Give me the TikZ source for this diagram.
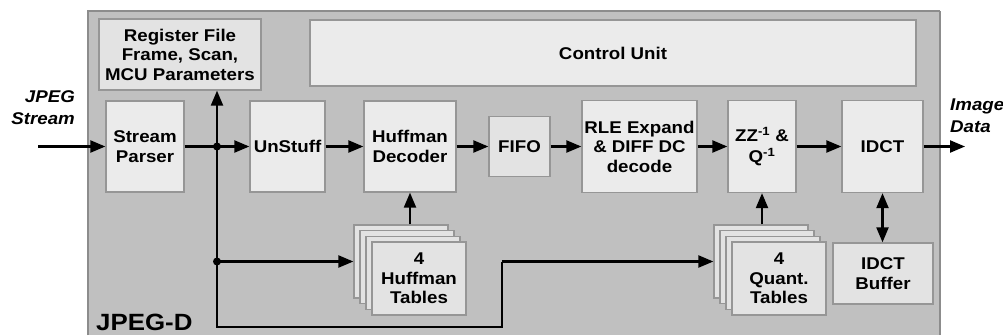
\documentclass[tikz,border=0pt]{standalone}
\usepackage{fontspec}
\setmainfont{Liberation Sans}[FakeStretch=1.1]
\usetikzlibrary{arrows.meta}
\definecolor{outerfill}{RGB}{192,192,192}
\definecolor{outerline}{RGB}{140,140,140}
\definecolor{boxfill}{RGB}{235,235,235}
\definecolor{boxfilltwo}{RGB}{227,227,227}
\definecolor{boxline}{RGB}{150,150,150}
\tikzset{
  blk/.style={draw=boxline, line width=1.3pt, fill=boxfill, inner sep=0pt, align=center,
    font=\fontsize{17}{19.5}\selectfont\bfseries},
  blktwo/.style={blk, fill=boxfilltwo},
  tbl/.style={blktwo, minimum width=94, minimum height=73},
  wire/.style={line width=2.2pt, black},
  arr/.style={wire, -{Triangle[length=15pt,width=12pt]}},
  darr/.style={wire, {Triangle[length=15pt,width=12pt]}-{Triangle[length=15pt,width=12pt]}},
  lbl/.style={font=\fontsize{17}{22}\selectfont\bfseries\itshape, inner sep=0pt},
  dot/.style={circle, fill=black, inner sep=0pt, minimum size=8pt}
}
\begin{document}
\begin{tikzpicture}[x=1pt,y=-1pt]
\useasboundingbox (0,0) rectangle (1003,335);
% outer container
\fill[outerfill] (88,11) rectangle (940,335);
\draw[outerline, line width=1.5pt] (88,335) -- (88,11) -- (940,11);
\draw[outerline, line width=2.5pt] (940,11) -- (940,335);
\node[font=\fontsize{23.5}{26}\selectfont\bfseries, anchor=west, inner sep=0pt] (title) at (96,322) {JPEG-D};

% blocks
\node[blktwo, minimum width=162, minimum height=71] (reg) at (180,54.5) {Register File\\Frame, Scan,\\MCU Parameters};
\node[blk, minimum width=606, minimum height=66] (ctrl) at (613,53) {Control Unit};
\node[blk, minimum width=78, minimum height=91] (sp) at (145,146.5) {Stream\\Parser};
\node[blk, minimum width=75, minimum height=91] (un) at (287.5,146.5) {UnStuff};
\node[blk, minimum width=92, minimum height=91] (hd) at (410,146.5) {Huffman\\Decoder};
\node[blktwo, minimum width=61, minimum height=60] (fifo) at (519.5,146.5) {FIFO};
\node[blk, minimum width=115, minimum height=92] (rle) at (639.5,146.5) {RLE Expand\\\& DIFF DC\\decode};
\node[blk, minimum width=68, minimum height=92] (zz) at (762,146.5) {ZZ\textsuperscript{-1} \&\\[2pt]Q\textsuperscript{-1}};
\node[blk, minimum width=81, minimum height=92] (idct) at (882.5,146.5) {IDCT};
\node[blktwo, minimum width=100, minimum height=61] (buf) at (883,273.5) {IDCT\\Buffer};

% huffman tables stack
\node[tbl] (ht0) at (401,261.5) {};
\node[tbl] (ht1) at (407,267.2) {};
\node[tbl] (ht2) at (413,272.8) {};
\node[tbl] (ht3) at (419,278.5) {4\\Huffman\\Tables};
% quant tables stack
\node[tbl] (qt0) at (761,261.5) {};
\node[tbl] (qt1) at (767,267.2) {};
\node[tbl] (qt2) at (773,272.8) {};
\node[tbl] (qt3) at (779,278.5) {4\\Quant.\\Tables};

% external labels
\node[lbl, anchor=east, align=right] (inlbl) at (75,108) {JPEG\\Stream};
\node[lbl, anchor=west, align=left] (outlbl) at (950,116) {Image\\Data};

% coordinates
\coordinate (in) at (38,146.5);
\coordinate (j1) at (217,146.5);
\coordinate (j2) at (217,261.5);
\coordinate (jb) at (217,327);
\coordinate (k1) at (502,327);
\coordinate (k2) at (502,261.5);
\coordinate (out) at (965,146.5);

% connectors
\draw[arr] (in) -- (sp.west);
\draw[wire] (sp.east) -- (j1);
\draw[arr] (j1) -- (un.west);
\draw[arr] (j1) -- (j1 |- reg.south);
\draw[wire] (j1) -- (jb) -- (k1) -- (k2);
\draw[arr] (k2) -- (qt0.west);
\draw[arr] (j2) -- (ht0.west);
\draw[arr] (un.east) -- (hd.west);
\draw[arr] (hd.east) -- (fifo.west);
\draw[arr] (fifo.east) -- (rle.west);
\draw[arr] (rle.east) -- (zz.west);
\draw[arr] (zz.east) -- (idct.west);
\draw[arr] (idct.east) -- (out);
\draw[arr] (ht0.north -| hd.south) -- (hd.south);
\draw[arr] (qt0.north -| zz.south) -- (zz.south);
\draw[darr] (idct.south) -- (idct.south |- buf.north);

\node[dot] (d1) at (j1) {};
\node[dot] (d2) at (j2) {};
\end{tikzpicture}
\end{document}
